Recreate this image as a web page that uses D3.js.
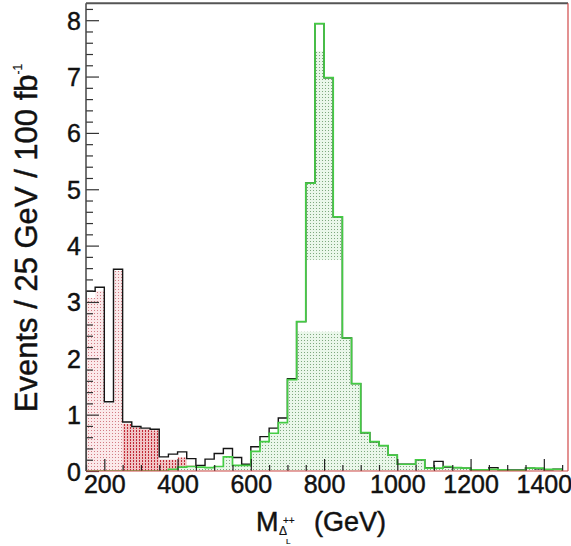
<!DOCTYPE html>
<html>
<head>
<meta charset="utf-8">
<script src="https://cdn.jsdelivr.net/npm/d3@7"></script>
<style>
  html, body { margin: 0; padding: 0; background: #fff; }
  svg { display: block; }
  text { font-family: "Liberation Sans", Arial, Helvetica, sans-serif; fill: #111; stroke: #111; stroke-width: 0.45px; }
</style>
</head>
<body>
<svg id="chart" width="571" height="546"></svg>
<script>
// Bin lower edges (GeV), 25 GeV wide bins
const binLow = [150,175,200,225,250,275,300,325,350,375,400,425,450,475,500,525,550,575,
  600,625,650,675,700,725,750,775,800,825,850,875,900,925,950,975,1000,1025,1050,1075,
  1100,1125,1150,1175,1200,1225,1250,1275,1300,1325,1350,1375,1400,1425];
const binWidth = 25;

// Total (signal + background), black outline
const total = [3.19,3.26,1.23,3.58,0.87,0.79,0.76,0.74,0.25,0.30,0.34,0.22,0.10,0.21,0.31,0.40,0.24,0.12,
  0.43,0.61,0.76,0.94,1.64,2.65,5.11,7.94,6.98,4.51,2.36,1.55,0.68,0.52,0.45,0.28,0.12,0.12,0.20,0.06,
  0.17,0.07,0.06,0.05,0.02,0.02,0.06,0.02,0.02,0.02,0.05,0.04,0.02,0.03];

// Doubly-charged Higgs signal, green
const signal = [0,0,0,0,0,0,0,0,0,0.03,0.07,0.08,0.07,0.06,0.08,0.25,0.10,0.10,
  0.35,0.52,0.67,0.86,1.62,2.65,5.11,7.94,6.98,4.51,2.36,1.55,0.68,0.52,0.45,0.28,0.12,0.12,0.20,0.05,
  0.05,0.08,0.06,0.05,0.02,0.02,0.03,0.02,0.01,0.01,0.05,0.05,0.03,0.03];

// Background A (light pink dots)
const bkgA = [3.07,3.20,1.20,3.55,0,0,0,0,0,0,0,0,0,0,0,0,0,0,
  0,0,0,0,0,0,0,0,0,0,0,0,0,0,0,0,0,0,0,0,
  0,0,0,0,0,0,0,0,0,0,0,0,0,0];

// Background B (dense red dots)
const bkgB = [0,0,0,0,0.84,0.77,0.74,0.72,0.20,0.20,0.24,0.10,0.07,0.07,0.08,0.15,0.05,0.03,
  0.03,0.03,0.03,0.02,0.02,0.02,0.02,0.02,0.02,0.02,0.02,0.02,0.02,0.02,0.01,0.01,0.01,0.01,0.01,0.01,
  0.01,0.01,0.01,0.01,0.01,0.01,0.05,0.01,0.01,0.01,0.01,0.01,0.01,0.01];

// Value ranges in which the signal's dot pattern is painted
const signalFillBands = [[0, 2.47], [3.75, 7.45]];

const xTicksMajor = [200,400,600,800,1000,1200,1400];
const yTicksMajor = [0,1,2,3,4,5,6,7,8];

const svg = d3.select("#chart");
const x = d3.scaleLinear().domain([150, 1466]).range([86, 568]);
const y = d3.scaleLinear().domain([0, 8.3]).range([471, 3.3]);

// Fill patterns
const defs = svg.append("defs");
function dotPattern(id, bg, dot, w, h) {
  const p = defs.append("pattern").attr("id", id).attr("patternUnits", "userSpaceOnUse")
    .attr("width", 3).attr("height", 3);
  p.append("rect").attr("width", 3).attr("height", 3).attr("fill", bg);
  p.append("rect").attr("x", 1).attr("y", 1).attr("width", w).attr("height", h).attr("fill", dot);
}
dotPattern("pinkDots", "#fbe9ea", "#d27c84", 1, 1);
dotPattern("redDots", "#f1c3c4", "#c02a36", 1, 2);
dotPattern("greenDots", "#eaf7ea", "#7fa87f", 1, 1);

// Step outline / area for a binned series
function stepPoints(vals) {
  const pts = [[binLow[0], 0]];
  vals.forEach((v, i) => {
    pts.push([binLow[i], v]);
    pts.push([binLow[i] + binWidth, v]);
  });
  pts.push([binLow[binLow.length - 1] + binWidth, 0]);
  return pts;
}
const line = d3.line().x(d => x(d[0])).y(d => y(d[1]));

const plotClip = defs.append("clipPath").attr("id", "plotArea");
plotClip.append("rect").attr("x", x(150)).attr("y", y(8.3))
  .attr("width", x(1466) - x(150)).attr("height", y(0) - y(8.3));

const bandClip = defs.append("clipPath").attr("id", "signalBands");
bandClip.selectAll("rect").data(signalFillBands).join("rect")
  .attr("x", x(150)).attr("width", x(1466) - x(150))
  .attr("y", d => y(d[1])).attr("height", d => y(d[0]) - y(d[1]));

const plot = svg.append("g").attr("clip-path", "url(#plotArea)");

plot.append("path").attr("d", line(stepPoints(bkgA)) + "Z").attr("fill", "url(#pinkDots)").attr("stroke", "none");
plot.append("path").attr("d", line(stepPoints(bkgB)) + "Z").attr("fill", "url(#redDots)").attr("stroke", "none");
plot.append("g").attr("clip-path", "url(#signalBands)")
  .append("path").attr("d", line(stepPoints(signal)) + "Z").attr("fill", "url(#greenDots)").attr("stroke", "none");

plot.append("path").attr("d", line(stepPoints(total))).attr("fill", "none")
  .attr("stroke", "#151515").attr("stroke-width", 1.4);
plot.append("path").attr("d", line(stepPoints(signal))).attr("fill", "none")
  .attr("stroke", "#44cc44").attr("stroke-width", 1.7);

// Axes with inward ticks
const yMinor = d3.range(0, 8.3, 0.2).filter(v => Math.abs(v - Math.round(v)) > 1e-6);
svg.append("g").attr("transform", `translate(${x(150)},0)`)
  .call(d3.axisLeft(y).tickValues(yMinor).tickSize(-7).tickFormat(""))
  .call(g => g.select(".domain").remove())
  .call(g => g.selectAll("line").attr("stroke", "#333").attr("stroke-width", 1.2));
svg.append("g").attr("transform", `translate(${x(150)},0)`)
  .call(d3.axisLeft(y).tickValues(yTicksMajor).tickSize(-13).tickPadding(5).tickFormat(d3.format("d")))
  .call(g => g.select(".domain").remove())
  .call(g => g.selectAll("line").attr("stroke", "#333").attr("stroke-width", 1.2))
  .call(g => g.selectAll("text").attr("font-size", 25).attr("dy", "0.36em")
    .style("font-family", "'Liberation Sans', Arial, sans-serif").attr("fill", "#111"));

const xMinor = d3.range(150, 1466, 50).filter(v => v % 200 !== 0);
svg.append("g").attr("transform", `translate(0,${y(0)})`)
  .call(d3.axisBottom(x).tickValues(xMinor).tickSize(-6).tickFormat(""))
  .call(g => g.select(".domain").remove())
  .call(g => g.selectAll("line").attr("stroke", "#222").attr("stroke-width", 1.2));
svg.append("g").attr("transform", `translate(0,${y(0)})`)
  .call(d3.axisBottom(x).tickValues(xTicksMajor).tickSize(-12).tickPadding(5).tickFormat(d3.format("d")))
  .call(g => g.select(".domain").remove())
  .call(g => g.selectAll("line").attr("stroke", "#222").attr("stroke-width", 1.2))
  .call(g => g.selectAll("text").attr("font-size", 25).attr("dy", "0.68em")
    .style("font-family", "'Liberation Sans', Arial, sans-serif").attr("fill", "#111"));

// Frame
svg.append("line").attr("x1", x(150)).attr("x2", x(150)).attr("y1", y(8.3)).attr("y2", y(0))
  .attr("stroke", "#444").attr("stroke-width", 1.5);
svg.append("line").attr("x1", x(150)).attr("x2", x(1466)).attr("y1", y(8.3)).attr("y2", y(8.3))
  .attr("stroke", "#555").attr("stroke-width", 2);
svg.append("line").attr("x1", x(1466)).attr("x2", x(1466)).attr("y1", y(8.3)).attr("y2", y(0))
  .attr("stroke", "#d04848").attr("stroke-width", 1.2);
svg.append("line").attr("x1", x(150)).attr("x2", x(1466)).attr("y1", y(0)).attr("y2", y(0))
  .attr("stroke", "#d04848").attr("stroke-width", 1.2);

// Y title
const yt = svg.append("text").attr("transform", "translate(37,238) rotate(-90)")
  .attr("text-anchor", "middle").attr("font-size", 31);
yt.append("tspan").text("Events / 25 GeV / 100 fb");
yt.append("tspan").attr("font-size", 12).attr("dy", -15).style("stroke-width", "0.2px").text("-1");

// X title: M with Δ_L^{++} subscript
const xt = svg.append("g");
xt.append("text").attr("x", 256).attr("y", 531).attr("font-size", 27).text("M");
xt.append("text").attr("x", 279).attr("y", 535).attr("font-size", 12).style("stroke-width", "0.2px").text("Δ");
xt.append("text").attr("x", 283).attr("y", 524).attr("font-size", 10).style("stroke-width", "0.2px").text("++");
xt.append("text").attr("x", 286).attr("y", 544).attr("font-size", 8).style("stroke-width", "0.2px").text("L");
xt.append("text").attr("x", 314).attr("y", 531).attr("font-size", 27).text("(GeV)");
</script>
</body>
</html>
